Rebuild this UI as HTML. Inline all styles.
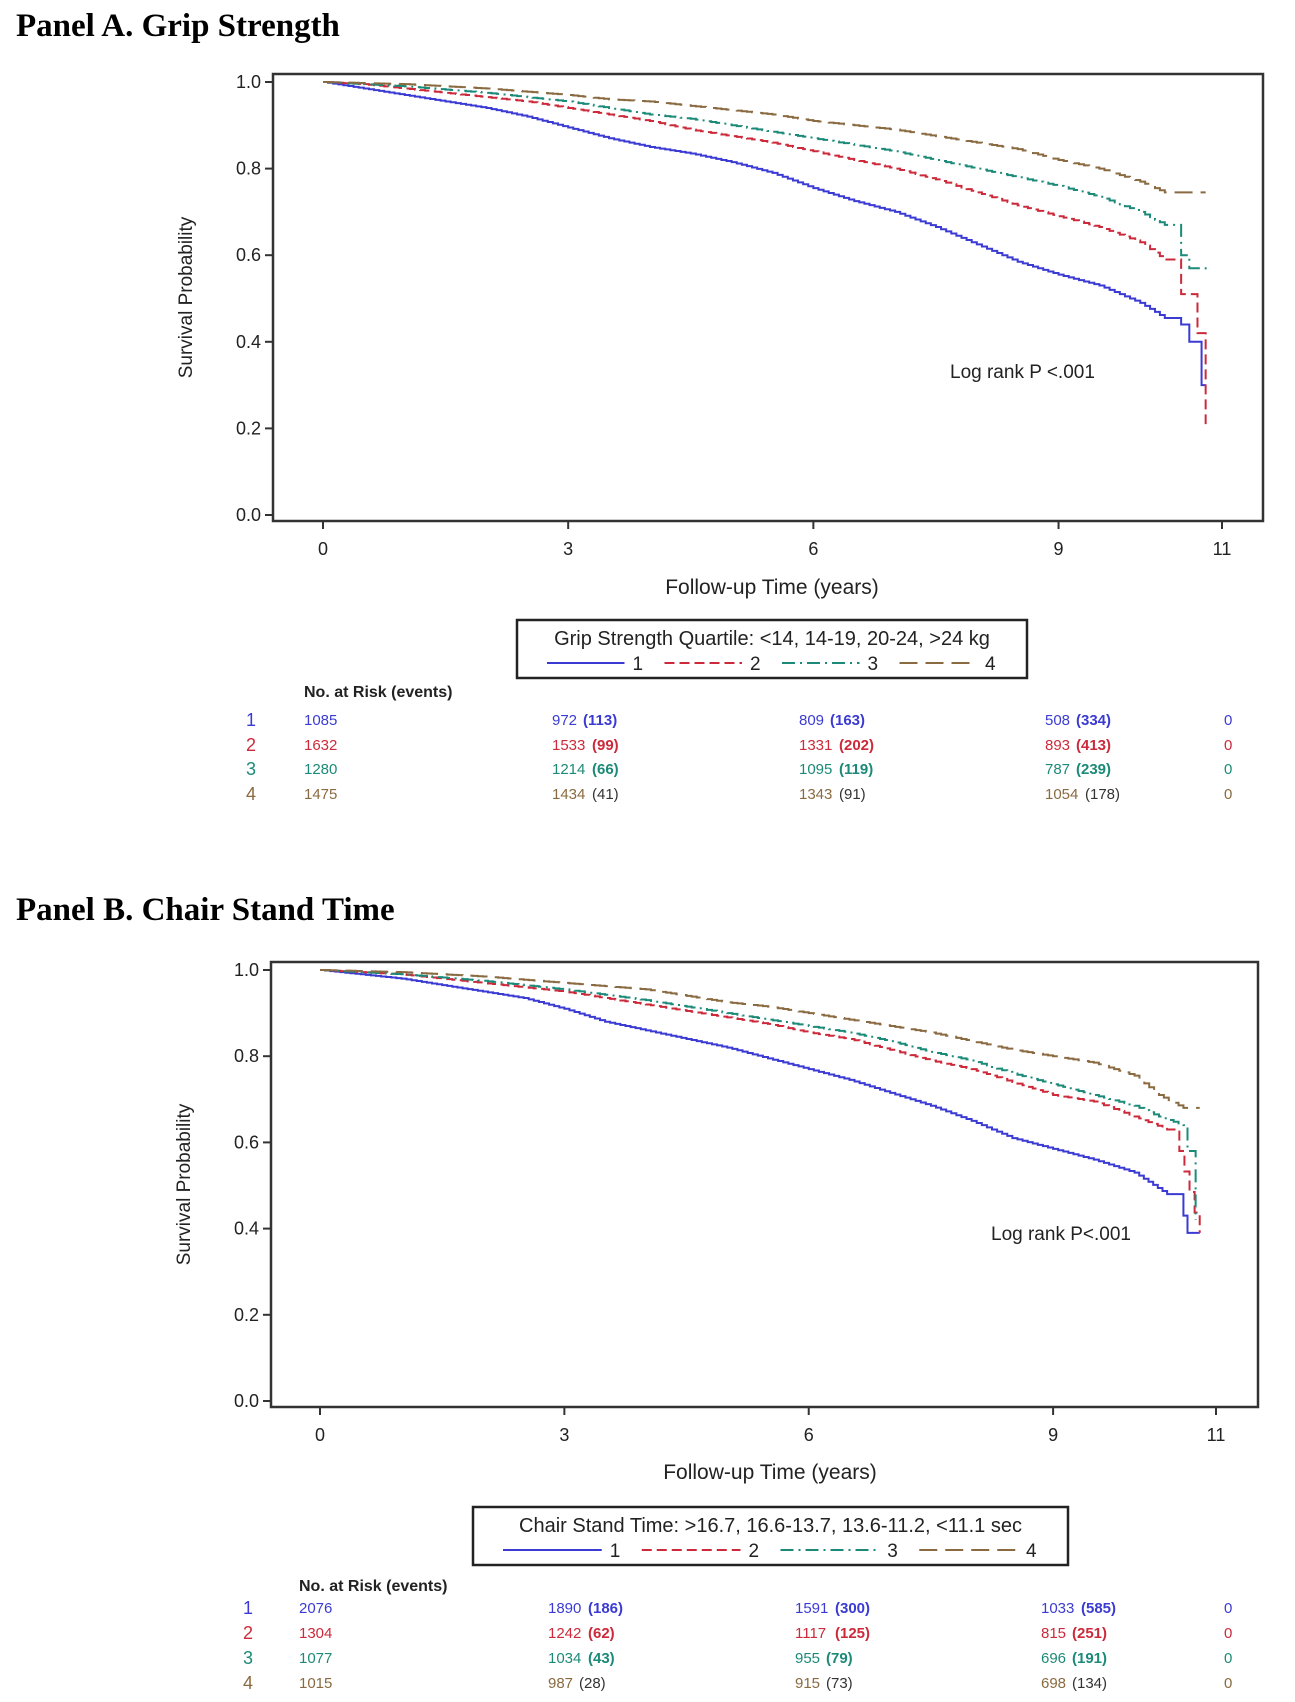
<!DOCTYPE html>
<html><head><meta charset="utf-8">
<style>
body{margin:0;background:#fff;width:1295px;height:1702px;overflow:hidden;font-family:"Liberation Sans",Arial,sans-serif}
svg{display:block}
</style></head>
<body>
<svg id="fig" width="1295" height="1702" viewBox="0 0 1295 1702" xmlns="http://www.w3.org/2000/svg">
<text x="16" y="36" font-family="Liberation Serif" font-weight="bold" font-size="33">Panel A. Grip Strength</text>
<text x="16" y="920" font-family="Liberation Serif" font-weight="bold" font-size="33">Panel B. Chair Stand Time</text>
<g id="pa"></g>
<g id="pb"></g>
</svg>
<script>
const xTicks=[0,3,6,9,11];
const yTicks=[0,0.2,0.4,0.6,0.8,1.0];
const groupLabels=["1","2","3","4"];
const colors=["#3b3bd4","#cc2a3a","#1c8a78","#8a6a40"];
const dashes=["","10,5","13,5,2,5","18,8"];
// Panel A
const aT1=[0,0.5,1,1.5,2,2.5,3,3.5,4,4.5,5,5.5,6,6.5,7,7.5,8,8.5,9,9.5,10,10.3,10.5,10.6,10.75,10.8];
const aS1=[1,0.985,0.97,0.955,0.94,0.92,0.895,0.87,0.85,0.835,0.815,0.79,0.755,0.725,0.70,0.665,0.625,0.585,0.555,0.53,0.49,0.455,0.44,0.40,0.30,0.30];
const aT2=[0,0.5,1,1.5,2,2.5,3,3.5,4,4.5,5,5.5,6,6.5,7,7.5,8,8.5,9,9.5,10,10.3,10.5,10.7,10.8];
const aS2=[1,0.995,0.985,0.975,0.965,0.955,0.94,0.925,0.91,0.89,0.875,0.86,0.84,0.82,0.80,0.775,0.745,0.715,0.69,0.665,0.63,0.59,0.51,0.42,0.21];
const aT3=[0,1,2,2.5,3,3.5,4,4.5,5,5.5,6,6.5,7,7.5,8,8.5,9,9.5,10,10.3,10.5,10.6,10.8];
const aS3=[1,0.99,0.975,0.965,0.955,0.94,0.925,0.915,0.9,0.885,0.87,0.855,0.84,0.82,0.80,0.78,0.76,0.735,0.70,0.67,0.60,0.57,0.565];
const aT4=[0,1,2,3,3.5,4,4.5,5,5.5,6,6.5,7,7.5,8,8.5,9,9.5,10,10.3,10.8];
const aS4=[1,0.995,0.985,0.97,0.96,0.955,0.945,0.935,0.925,0.91,0.90,0.89,0.875,0.86,0.845,0.82,0.80,0.77,0.745,0.745];
const aRisk=[["1085","972","809","508","0"],["1632","1533","1331","893","0"],["1280","1214","1095","787","0"],["1475","1434","1343","1054","0"]];
const aEvents=[["113","163","334"],["99","202","413"],["66","119","239"],["41","91","178"]];
// Panel B
const bT1=[0,0.5,1,1.5,2,2.5,3,3.5,4,4.5,5,5.5,6,6.5,7,7.5,8,8.5,9,9.5,10,10.4,10.6,10.65,10.8];
const bS1=[1,0.99,0.98,0.965,0.95,0.935,0.91,0.88,0.86,0.84,0.82,0.795,0.77,0.745,0.715,0.685,0.65,0.61,0.585,0.56,0.53,0.48,0.43,0.39,0.39];
const bT2=[0,1,2,3,3.5,4,4.5,5,5.5,6,6.5,7,7.5,8,8.5,9,9.5,10,10.4,10.55,10.8];
const bS2=[1,0.99,0.97,0.95,0.935,0.92,0.905,0.89,0.875,0.855,0.84,0.815,0.79,0.77,0.74,0.71,0.695,0.66,0.63,0.58,0.39];
const bT3=[0,1,2,3,4,5,5.5,6,6.5,7,7.5,8,8.5,9,9.5,10,10.3,10.6,10.65,10.75];
const bS3=[1,0.99,0.975,0.955,0.93,0.90,0.885,0.87,0.855,0.835,0.81,0.79,0.76,0.735,0.71,0.685,0.66,0.64,0.58,0.42];
const bT4=[0,1,2,3,4,4.5,5,5.5,6,6.5,7,7.5,8,8.5,9,9.5,10,10.3,10.6,10.8];
const bS4=[1,0.995,0.985,0.97,0.955,0.94,0.925,0.915,0.90,0.885,0.87,0.855,0.835,0.815,0.80,0.785,0.755,0.71,0.68,0.68];
const bRisk=[["2076","1890","1591","1033","0"],["1304","1242","1117","815","0"],["1077","1034","955","696","0"],["1015","987","915","698","0"]];
const bEvents=[["186","300","585"],["62","125","251"],["43","79","191"],["28","73","134"]];

const NS="http://www.w3.org/2000/svg";
function mk(parent,tag,attrs,txt){const e=document.createElementNS(NS,tag);for(const k in attrs)e.setAttribute(k,attrs[k]);if(txt!==undefined)e.textContent=txt;parent.appendChild(e);return e;}

function drawPanel(g,c){
  const sx=t=>c.x0+(c.x11-c.x0)*t/11;
  const sy=v=>c.y0-(c.y0-c.y1)*v;
  const fr=mk(g,'rect',{x:c.fl,y:c.ft,width:c.fr-c.fl,height:c.fb-c.ft,fill:'none',stroke:'#333','stroke-width':2.5});
  
  
  yTicks.forEach(v=>{
    mk(g,'line',{x1:c.fl-8,x2:c.fl,y1:sy(v),y2:sy(v),stroke:'#333','stroke-width':2});
    const t=mk(g,'text',{x:c.fl-12,y:sy(v)+6,'text-anchor':'end','font-size':18,fill:'#222'},v.toFixed(1));
    
    
  });
  xTicks.forEach(v=>{
    mk(g,'line',{x1:sx(v),x2:sx(v),y1:c.fb,y2:c.fb+8,stroke:'#333','stroke-width':2});
    const t=mk(g,'text',{x:sx(v),y:c.fb+34,'text-anchor':'middle','font-size':18,fill:'#222'},String(v));
    
    
  });
  const yl=mk(g,'text',{x:0,y:0,transform:`translate(${c.ylx},${(c.ft+c.fb)/2}) rotate(-90)`,'text-anchor':'middle','font-size':19,fill:'#222'},'Survival Probability');
  
  
  const xl=mk(g,'text',{x:c.xlx,y:c.xly,'text-anchor':'middle','font-size':21,fill:'#222'},'Follow-up Time (years)');
  
  
  const lr=mk(g,'text',{x:c.lrx,y:c.lry,'font-size':19,fill:'#222'},c.lrText);
  
  
  c.series.forEach((s,i)=>{
    const T=s[0],S=s[1];let d=`M${sx(T[0])},${sy(S[0])}`;
    for(let k=1;k<T.length;k++){
      const xa=sx(T[k-1]),xb=sx(T[k]),ya=sy(S[k-1]),yb=sy(S[k]);
      const n=Math.max(1,Math.round((xb-xa)/5));
      if(T[k]-T[k-1]<0.25||n<2){d+=` H${xb} V${yb}`;continue;}
      for(let j=1;j<=n;j++){d+=` H${xa+(xb-xa)*j/n} V${ya+(yb-ya)*j/n}`;}
    }
    const p=mk(g,'path',{d:d,fill:'none',stroke:colors[i],'stroke-width':2,'stroke-dasharray':dashes[i]});
    
    
  });
  const lg=mk(g,'g',{});
  
  
  mk(lg,'rect',{x:c.lgx,y:c.lgy,width:c.lgw,height:c.lgh,fill:'#fff',stroke:'#222','stroke-width':2.5});
  mk(lg,'text',{x:c.lgx+c.lgw/2,y:c.lgy+25,'text-anchor':'middle','font-size':20,fill:'#222'},c.lgTitle);
  const segW=(c.lgw-40)/4;
  groupLabels.forEach((lab,i)=>{
    const x=c.lgx+20+segW*i;
    const e=mk(lg,'line',{x1:x+10,x2:x+segW-30,y1:c.lgy+c.lgh-15,y2:c.lgy+c.lgh-15,stroke:colors[i],'stroke-width':2,'stroke-dasharray':dashes[i]});
    
    
    mk(lg,'text',{x:x+segW-22,y:c.lgy+c.lgh-8,'font-size':19,fill:'#222'},lab);
  });
  const rt=mk(g,'g',{'font-size':15});
  
  
  mk(rt,'text',{x:c.colX[0],y:c.rhy,'font-size':16,'font-weight':'bold',fill:'#222'},'No. at Risk (events)');
  c.risk.forEach((row,r)=>{
    const y=c.rowY[r];
    mk(rt,'text',{x:c.labX,y:y+1,'font-size':18,fill:colors[r]},groupLabels[r]);
    row.forEach((v,k)=>{
      mk(rt,'text',{x:c.colX[k],y:y,fill:colors[r]},v);
      if(k>=1&&k<=3){mk(rt,'text',{x:c.colX[k]+v.length*9+4,y:y,fill:r===3?'#333':colors[r],'font-weight':r===3?'normal':'bold'},'('+c.events[r][k-1]+')');}
    });
  });
}

drawPanel(document.getElementById('pa'),{
  fl:273,fr:1263,ft:74,fb:521,x0:323,x11:1222,y1:82,y0:515,ylx:192,xlx:772,xly:594,
  lrx:950,lry:378,lrText:'Log rank P <.001',
  series:[[aT1,aS1],[aT2,aS2],[aT3,aS3],[aT4,aS4]],
  lgx:517,lgy:620,lgw:510,lgh:58,lgTitle:'Grip Strength Quartile: <14, 14-19, 20-24, >24 kg',
  rhy:697,rowY:[725,750,774,799],labX:246,colX:[304,552,799,1045,1224],risk:aRisk,events:aEvents
});
drawPanel(document.getElementById('pb'),{
  fl:271,fr:1258,ft:962,fb:1407,x0:320,x11:1216,y1:970,y0:1401,ylx:190,xlx:770,xly:1479,
  lrx:991,lry:1240,lrText:'Log rank P<.001',
  series:[[bT1,bS1],[bT2,bS2],[bT3,bS3],[bT4,bS4]],
  lgx:473,lgy:1507,lgw:595,lgh:58,lgTitle:'Chair Stand Time: >16.7, 16.6-13.7, 13.6-11.2, <11.1 sec',
  rhy:1591,rowY:[1613,1638,1663,1688],labX:243,colX:[299,548,795,1041,1224],risk:bRisk,events:bEvents
});
</script>
</body></html>
